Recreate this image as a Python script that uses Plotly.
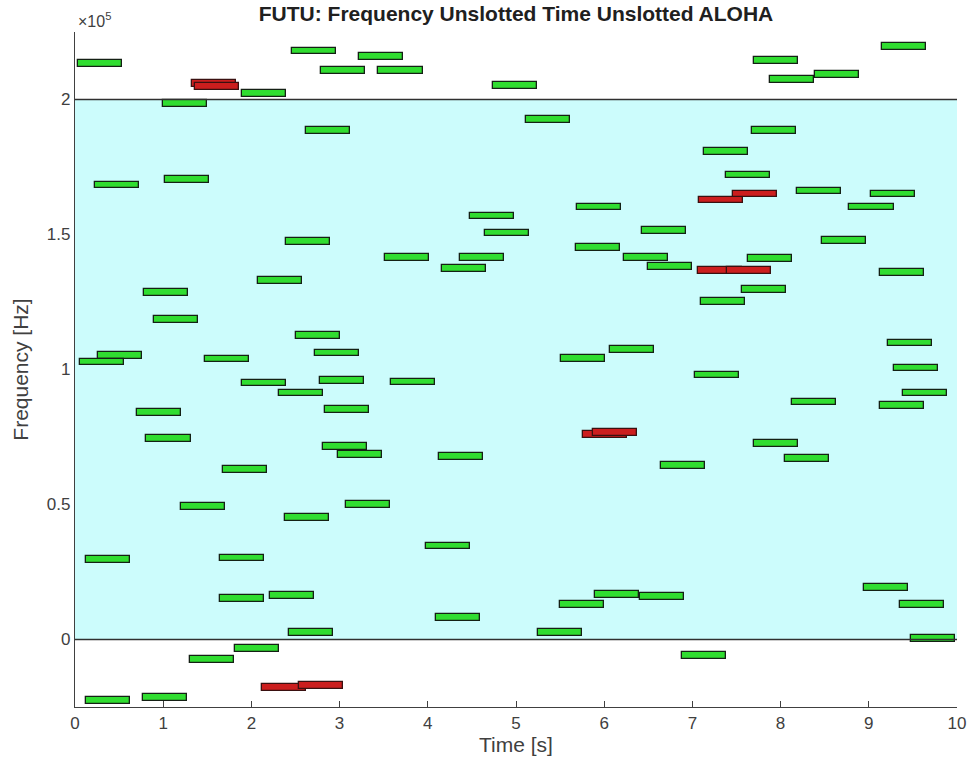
import plotly.graph_objects as go

# Packet start times [s] and centre frequencies [Hz]
green_start = [0.03, 1.89, 2.46, 2.79, 3.22, 3.44, 4.74, 7.70, 7.88, 8.39, 9.15,
               1.00, 2.62, 0.23, 1.02, 2.39, 4.48, 4.65, 3.51, 4.36, 5.11, 7.68,
               7.13, 7.38, 8.19, 9.02, 8.78, 5.69, 6.43, 8.47, 5.68, 6.22, 7.63,
               4.16, 2.07, 0.78, 0.89, 2.50, 2.72, 0.26, 0.06, 1.47, 1.89, 2.78,
               3.58, 2.31, 0.70, 2.83, 0.81, 2.81, 2.98, 4.13, 1.68, 1.20, 3.07,
               6.50, 7.56, 7.10, 9.13, 9.22, 9.29, 9.39, 9.13, 6.07, 5.51, 7.03,
               8.13, 7.70, 8.05, 6.64, 2.38, 0.125, 1.64, 3.98, 1.64, 2.21, 4.09,
               2.43, 1.81, 1.30, 0.125, 0.77, 8.95, 5.90, 6.41, 5.50, 9.35, 5.25,
               9.48, 6.88]
green_freq = [213300, 202200, 218000, 210700, 215800, 210700, 205200, 214400, 207400,
              209200, 219500, 198500, 188600, 168300, 170500, 147300, 156900, 150600,
              141400, 141400, 192600, 188600, 180800, 172000, 166100, 165000, 160200,
              160200, 151400, 147700, 145100, 141400, 141000, 137400, 133000, 128500,
              118600, 112700, 106100, 105300, 102800, 103900, 95000, 95800, 95400,
              91300, 84000, 85100, 74400, 71500, 68500, 67800, 63000, 49400, 50100,
              138100, 129700, 125200, 135900, 109800, 100600, 91300, 86600, 107500,
              104200, 98000, 88000, 72600, 67000, 64500, 45300, 29500, 30200, 34600,
              15100, 16200, 8100, 2600, -3300, -7400, -22500, -21400, 19200, 16600,
              15800, 12900, 12900, 2600, 400, -5900]

red_start = [1.33, 1.36, 7.07, 7.46, 7.06, 7.39, 5.76, 5.87, 2.12, 2.54]
red_freq = [205900, 204800, 162800, 165000, 136600, 136600, 75900, 76600, -17700, -16900]

duration = 0.5      # s
bandwidth = 2500    # Hz
band_low, band_high = 0, 200000
t_end = 10

y_tickvals = [0, 50000, 100000, 150000, 200000]
y_ticktext = ["0", "0.5", "1", "1.5", "2"]
x_tickvals = list(range(0, 11))

FONT = "Liberation Sans, Arial, sans-serif"
AX = "#404040"

W, H = 972, 778

fig = go.Figure()
fig.add_trace(go.Bar(
    orientation="h", y=green_freq, x=[duration] * len(green_start), base=green_start,
    width=bandwidth, marker=dict(color="#30dd30", line=dict(color="#142014", width=1.3)),
    showlegend=False, hoverinfo="skip"))
fig.add_trace(go.Bar(
    orientation="h", y=red_freq, x=[duration] * len(red_start), base=red_start,
    width=bandwidth, marker=dict(color="#cc1e1e", line=dict(color="#3a1010", width=1.3)),
    showlegend=False, hoverinfo="skip"))

fig.add_shape(type="rect", xref="x", yref="y", x0=0, x1=t_end, y0=band_low, y1=band_high,
              fillcolor="#ccfcfc", line=dict(width=0), layer="below")
for yv in (band_low, band_high):
    fig.add_shape(type="line", xref="x", yref="y", x0=0, x1=t_end, y0=yv, y1=yv,
                  line=dict(color="#303030", width=1.3), layer="above")

fig.update_layout(
    width=W, height=H, barmode="overlay", bargap=0,
    margin=dict(l=75, r=15, t=32, b=71),
    paper_bgcolor="white", plot_bgcolor="white",
    font=dict(family=FONT, color=AX),
    title=dict(text="<b>FUTU: Frequency Unslotted Time Unslotted ALOHA</b>",
               x=0.5, xref="paper", y=1 - 14 / H, yanchor="middle", xanchor="center",
               font=dict(size=21, color="#202020", family=FONT)),
    xaxis=dict(range=[0, t_end], tickvals=x_tickvals, ticks="inside", ticklen=6,
               tickcolor=AX, showline=True, linecolor=AX, linewidth=1.3, showgrid=False,
               zeroline=False, tickfont=dict(size=17, color=AX), automargin=False,
               title=dict(text="Time [s]", font=dict(size=21, color=AX), standoff=4)),
    yaxis=dict(range=[-25000, 225000], tickvals=y_tickvals, ticktext=y_ticktext,
               ticks="", showline=True, linecolor=AX, linewidth=1.3, showgrid=False,
               zeroline=False, tickfont=dict(size=17, color=AX), automargin=False,
               title=dict(text="Frequency [Hz]", font=dict(size=21, color=AX), standoff=12)),
    annotations=[dict(text="×10<sup>5</sup>", xref="paper", yref="paper",
                      x=0, y=1, xanchor="left", yanchor="bottom", yshift=0, xshift=1,
                      showarrow=False, font=dict(size=16, color=AX, family=FONT))],
)

fig.write_html("out.html", config={"displayModeBar": False},
               post_script="document.body.style.margin='0px';")
